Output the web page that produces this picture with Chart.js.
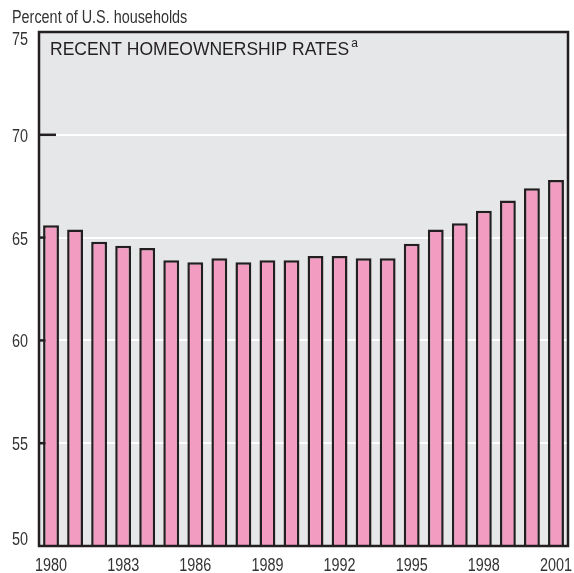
<!DOCTYPE html>
<html>
<head>
<meta charset="utf-8">
<script src="https://cdn.jsdelivr.net/npm/chart.js@4"></script>
<style>
  html, body { margin: 0; padding: 0; background: #fff; }
  #wrap { width: 574px; height: 573px; position: relative; }
</style>
</head>
<body>
<div id="wrap"><canvas id="homeChart" width="574" height="573"></canvas></div>
<script>
  const years = ['1980','1981','1982','1983','1984','1985','1986','1987','1988','1989','1990',
                 '1991','1992','1993','1994','1995','1996','1997','1998','1999','2000','2001'];
  const ownershipRates = [65.6, 65.4, 64.8, 64.6, 64.5, 63.9, 63.8, 64.0, 63.8, 63.9, 63.9,
                          64.1, 64.1, 64.0, 64.0, 64.7, 65.4, 65.7, 66.3, 66.8, 67.4, 67.8];
  const shownYears = ['1980','1983','1986','1989','1992','1995','1998','2001'];
  const yTicks = [50, 55, 60, 65, 70, 75];

  const ink = '#231f20';
  const labelInk = '#333';
  const sans = "'Liberation Sans', Arial, sans-serif";

  // condensed look: Liberation Sans squeezed horizontally
  function narrowText(ctx, text, x, y, align) {
    const squeeze = 0.8;
    ctx.save();
    ctx.font = '18px ' + sans;
    ctx.textAlign = align;
    ctx.translate(x, y);
    ctx.scale(squeeze, 1);
    ctx.fillText(text, 0, 0);
    ctx.restore();
  }

  // plot panel: grey fill, dark frame, small ticks, labels
  const panelPlugin = {
    id: 'panel',
    beforeDraw(chart) {
      const { ctx, chartArea: a } = chart;
      ctx.save();
      ctx.fillStyle = '#e6e7e8';
      ctx.fillRect(a.left, a.top, a.right - a.left, a.bottom - a.top);
      ctx.restore();
    },
    beforeDatasetsDraw(chart) {
      const { ctx, chartArea: a, scales } = chart;
      ctx.save();
      ctx.strokeStyle = ink;
      ctx.lineWidth = 2.5;
      yTicks.slice(1, -1).forEach(v => {
        const y = scales.y.getPixelForValue(v);
        ctx.beginPath();
        ctx.moveTo(a.left, y);
        ctx.lineTo(a.left + 17, y);
        ctx.stroke();
      });
      ctx.restore();
    },
    afterDraw(chart) {
      const { ctx, chartArea: a, scales } = chart;
      ctx.save();
      ctx.strokeStyle = ink;
      ctx.lineWidth = 2.5;
      ctx.strokeRect(a.left, a.top, a.right - a.left, a.bottom - a.top);

      // inner title
      ctx.fillStyle = ink;
      ctx.textBaseline = 'alphabetic';
      ctx.font = '17.5px ' + sans;
      const title = 'RECENT HOMEOWNERSHIP RATES';
      ctx.fillText(title, a.left + 11, a.top + 23);
      const w = ctx.measureText(title).width;
      ctx.font = '12px ' + sans;
      ctx.fillText('a', a.left + 13 + w, a.top + 15);

      // unit label
      ctx.fillStyle = labelInk;
      narrowText(ctx, 'Percent of U.S. households', 12, 23, 'left');

      // y tick labels
      yTicks.forEach((v, i) => {
        const y = scales.y.getPixelForValue(v);
        let dy = 7;
        if (i === 0) dy = -1;
        if (i === yTicks.length - 1) dy = 13;
        narrowText(ctx, String(v), 28, y + dy, 'right');
      });

      // x tick labels
      years.forEach((yr, i) => {
        if (!shownYears.includes(yr)) return;
        const x = scales.x.getPixelForValue(i);
        narrowText(ctx, yr, x, a.bottom + 25, 'center');
      });
      ctx.restore();
    }
  };

  new Chart(document.getElementById('homeChart'), {
    type: 'bar',
    data: {
      labels: years,
      datasets: [{
        data: ownershipRates,
        backgroundColor: '#f39cc2',
        borderColor: ink,
        borderWidth: 2.5,
        borderSkipped: false,
        barPercentage: 0.66,
        categoryPercentage: 1
      }]
    },
    options: {
      responsive: false,
      animation: false,
      layout: { padding: { top: 32, right: 6, left: 0, bottom: 0 } },
      plugins: {
        legend: { display: false },
        tooltip: { enabled: false }
      },
      scales: {
        x: {
          grid: { display: false },
          border: { display: false },
          ticks: { display: false },
          afterFit(scale) {
            scale.height = 27;
            scale.paddingLeft = 0;
            scale.paddingRight = 0;
          }
        },
        y: {
          min: 50,
          max: 75,
          border: { display: false },
          afterBuildTicks(scale) { scale.ticks = yTicks.map(v => ({ value: v })); },
          grid: {
            drawTicks: false,
            lineWidth: 2,
            color: c => (c.tick && (c.tick.value === 50 || c.tick.value === 75)) ? 'rgba(0,0,0,0)' : '#ffffff'
          },
          ticks: { display: false },
          afterFit(scale) { scale.width = 39; }
        }
      }
    },
    plugins: [panelPlugin]
  });
</script>
</body>
</html>
